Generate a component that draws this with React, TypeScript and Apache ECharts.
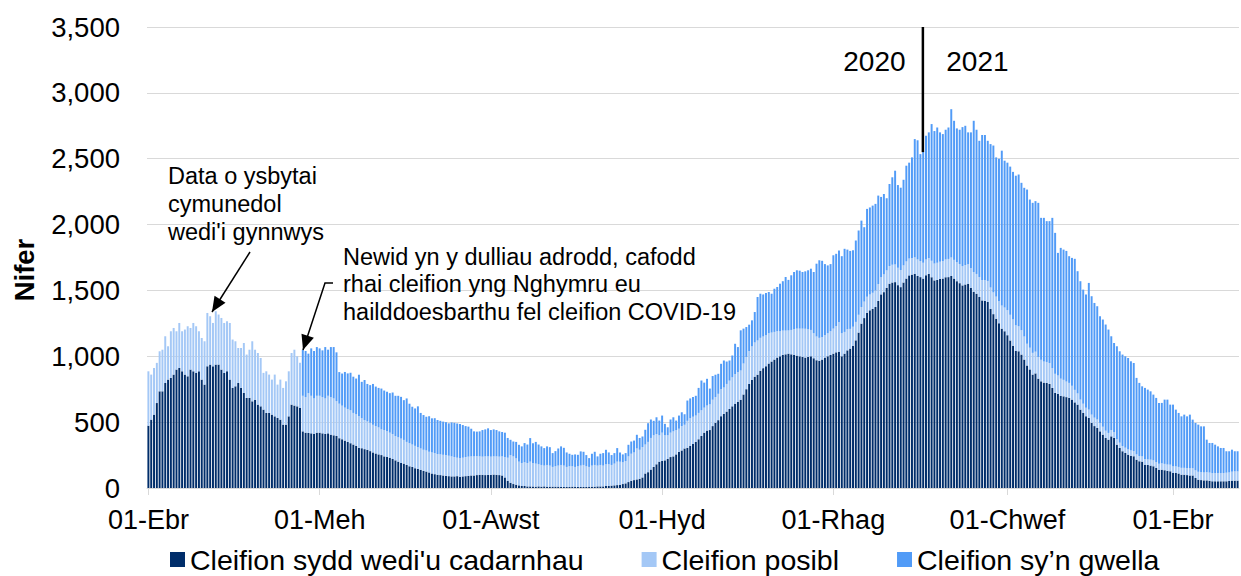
import React, { useEffect, useRef } from "react";
import * as echarts from "echarts";

// Daily data from 1 April 2020 (index 0)
const monthsCy = ["Ion", "Chwef", "Maw", "Ebr", "Mai", "Meh", "Gorff", "Awst", "Medi", "Hyd", "Tach", "Rhag"];
const tickLabels = ["01-Ebr", "01-Meh", "01-Awst", "01-Hyd", "01-Rhag", "01-Chwef"];
const yearLabel = "01-Ion";
const seriesNames = ["Cleifion sydd wedi'u cadarnhau", "Cleifion posibl", "Cleifion sy\u2019n gwella"];

const confirmed = [
  473,519,557,645,734,734,797,823,836,861,899,911,886,861,848,899,886,873,886,823,785,924,937,924,937,937,899,873,886,823,760,772,797,760,722,684,684,658,670,633,620,595,570,570,557,544,532,519,481,481,544,633,626,620,608,
  430,420,418,415,410,420,
  420,415,410,415,405,400,395,
  378,370,360,350,340,330,320,305,302,295,
  290,280,270,262,255,250,240,235,230,220,
  210,200,190,185,175,165,160,150,145,138,
  130,125,118,110,105,100,98,95,92,90,
  88,88,90,85,88,90,92,95,95,98,
  100,100,98,100,100,102,100,98,95,80,55,
  40,30,25,20,15,15,12,12,12,10,
  12,10,12,10,10,10,10,10,8,8,
  8,8,10,10,8,8,8,8,10,10,
  10,12,12,12,15,15,18,20,22,25,
  30,35,45,55,60,65,70,80,110,120,
  140,160,180,200,205,210,220,235,240,255,
  275,285,300,305,
  320,335,350,370,395,420,436,440,470,495,
  515,545,563,580,600,620,640,655,670,710,
  750,790,820,845,860,890,910,925,945,960,
  975,990,1000,1010,1015,1020,1015,1010,1005,1000,
  995,990,995,1000,985,970,965,975,990,1000,
  1010,1020,1030,1035,
  1000,1020,1045,1058,1080,1121,1180,1248,1290,1330,
  1349,1360,1374,1420,1470,1487,1520,1551,1560,1563,
  1540,1525,1560,1590,1614,1620,1626,1610,1601,1590,
  1615,1626,1600,1576,1580,1588,1590,1600,1601,1610,
  1590,1570,1555,1538,1545,1551,1520,1490,1475,1450,
  1424,1420,1412,1360,1320,1285,1250,1210,1190,1160,
  1120,1080,1040,1038,1013,975,930,
  900,861,870,830,810,800,797,790,760,722,
  715,700,696,690,684,671,650,633,595,570,
  544,532,494,470,456,430,405,380,367,392,
  380,329,304,279,266,253,245,241,215,203,
  200,177,175,170,165,152,139,139,135,130,
  127,114,114,110,101,101,98,95,95,76,
  63,60,58,58,55,51,51,51,51,51,
  51,53,56,56,56
];

const suspected = [
  413,342,354,305,304,316,355,253,354,354,291,342,304,342,380,316,367,355,304,316,329,405,367,329,405,380,392,380,380,430,367,342,266,303,379,329,366,456,380,392,367,279,316,291,266,317,253,304,279,329,342,392,424,380,342,
  270,270,302,285,270,280,
  280,275,270,285,285,280,265,
  262,255,250,250,250,240,240,240,228,220,
  215,215,210,208,205,195,200,195,190,190,
  185,185,185,180,175,175,170,170,165,162,
  160,160,157,160,160,158,157,157,158,155,
  152,147,140,143,142,145,146,145,145,144,
  140,138,142,140,138,138,140,140,145,155,175,
  210,210,200,180,175,180,178,188,178,175,
  168,165,158,165,160,150,155,160,167,162,
  152,157,155,150,157,162,167,157,150,160,
  165,158,163,158,165,165,157,165,178,175,
  165,170,195,205,210,235,220,230,220,230,
  240,240,230,200,215,190,180,185,190,185,
  175,185,180,205,
  210,205,200,200,195,190,190,195,200,195,
  200,205,200,210,215,220,225,225,222,235,
  245,250,255,260,260,250,240,235,230,220,
  210,200,190,185,180,176,185,195,205,210,
  215,219,210,200,190,180,175,171,170,175,
  180,190,200,225,
  175,165,160,150,145,140,135,126,125,122,
  120,122,125,128,130,135,132,134,135,134,
  132,130,130,130,128,126,125,125,122,120,
  120,120,125,128,130,130,132,135,138,140,
  142,144,145,146,148,148,150,150,150,152,
  155,158,160,162,165,168,170,175,180,190,
  195,200,195,190,185,175,165,
  165,165,165,165,163,160,160,159,150,145,
  139,130,125,118,114,105,95,85,76,70,
  65,63,63,64,64,64,60,55,51,48,
  45,42,40,40,40,40,40,40,40,40,
  40,42,42,45,45,45,45,48,48,48,
  50,50,50,50,52,52,52,55,55,58,
  60,60,60,62,62,62,63,63,63,63,
  65,65,68,70,70
];

const recovering = [
  0,0,0,0,0,0,0,0,0,0,0,0,0,0,0,0,0,0,0,0,0,0,0,0,0,0,0,0,0,0,0,0,0,0,0,0,0,0,0,0,0,0,0,0,0,0,0,0,0,0,0,0,0,0,0,
  350,350,300,360,360,370,
  360,355,390,350,380,390,370,
  240,244,271,270,285,275,271,315,276,305,
  285,286,310,300,300,310,300,300,300,315,
  305,315,317,302,330,300,287,284,310,270,
  264,256,270,259,265,258,255,252,250,246,
  258,260,260,257,248,235,228,210,190,186,
  190,202,205,213,202,205,200,192,185,185,150,
  116,113,125,128,126,146,140,179,150,165,
  150,141,133,141,140,105,115,130,141,135,
  110,95,87,95,87,108,100,85,67,90,
  100,70,85,95,110,90,75,80,103,70,
  60,60,88,93,90,104,90,81,112,142,
  140,110,127,112,130,87,61,100,107,72,
  100,105,80,154,
  150,150,150,190,226,190,203,120,180,170,
  152,193,205,170,153,166,230,190,305,265,
  227,200,198,231,330,335,320,320,313,295,
  328,336,361,375,407,384,415,435,443,440,
  430,436,448,465,465,553,589,579,540,515,
  510,557,548,543,
  585,631,605,592,580,618,640,656,565,667,
  661,662,658,672,610,610,548,623,664,712,
  628,625,650,727,728,764,898,905,812,851,
  939,954,1038,1006,1027,982,965,985,998,1126,
  1056,1016,1020,1056,1057,1001,1030,1148,1095,1034,
  1101,1102,1064,1089,1115,1057,1080,1176,1115,1120,
  1125,1120,1136,1152,1119,1129,1171,
  1125,1139,1143,1170,1078,1091,1069,1077,1141,1070,
  931,993,989,992,962,971,995,928,899,866,
  860,962,899,871,860,810,814,806,785,712,
  676,705,694,694,694,694,677,668,581,555,
  532,541,530,519,499,487,462,459,488,493,
  456,469,431,410,391,404,394,407,369,360,
  358,348,350,247,225,229,215,202,190,190,
  163,161,167,153,153
];

const categories = confirmed.map((_, i) => {
  const d = new Date(Date.UTC(2020, 3, 1 + i));
  return String(d.getUTCDate()).padStart(2, "0") + "-" + monthsCy[d.getUTCMonth()];
});

const COLORS = ["#002D6A", "#A4C8F6", "#519BF7"];
const FONT = "'Liberation Sans', Arial, Helvetica, sans-serif";
const GRID = "#D9D9D9";

function arrowHead(from: number[], tip: number[], len: number, half: number) {
  const dx = tip[0] - from[0];
  const dy = tip[1] - from[1];
  const l = Math.sqrt(dx * dx + dy * dy);
  const ux = dx / l, uy = dy / l;
  const bx = tip[0] - ux * len, by = tip[1] - uy * len;
  const nx = -uy, ny = ux;
  return [tip, [bx + nx * half, by + ny * half], [bx - nx * half, by - ny * half]];
}

export default function App() {
  const ref = useRef<HTMLDivElement>(null);
  useEffect(() => {
    document.body.style.margin = "0";
    const chart = echarts.init(ref.current!, null, { renderer: "svg" });
    const showIdx = (i: number) => tickLabels.indexOf(categories[i]) >= 0;
    chart.setOption({
      animation: false,
      grid: { left: 147, right: 2, top: 27, bottom: 88, containLabel: false },
      legend: {
        left: 165,
        top: 540,
        itemWidth: 15,
        itemHeight: 15,
        itemGap: 58,
        icon: "rect",
        selectedMode: false,
        textStyle: { fontSize: 28.5, color: "#000", fontFamily: FONT },
        data: seriesNames,
      },
      xAxis: {
        type: "category",
        data: categories,
        boundaryGap: true,
        axisLine: { lineStyle: { color: GRID, width: 1 } },
        axisTick: { show: true, interval: (i: number) => showIdx(i), alignWithLabel: true, length: 7, lineStyle: { color: GRID } },
        axisLabel: { interval: (i: number) => showIdx(i), fontSize: 27, color: "#000", fontFamily: FONT, margin: 18 },
        splitLine: { show: false },
      },
      yAxis: {
        type: "value",
        min: 0,
        max: 3500,
        interval: 500,
        axisLine: { show: false },
        axisTick: { show: false },
        splitLine: { lineStyle: { color: GRID, width: 1 } },
        axisLabel: {
          formatter: (v: number) => v.toLocaleString("en-US"),
          fontSize: 27.5,
          color: "#000",
          fontFamily: FONT,
          margin: 27,
        },
      },
      series: [
        { name: seriesNames[0], type: "bar", stack: "t", data: confirmed, itemStyle: { color: COLORS[0] }, barCategoryGap: "30%" },
        { name: seriesNames[1], type: "bar", stack: "t", data: suspected, itemStyle: { color: COLORS[1] }, barCategoryGap: "30%" },
        { name: seriesNames[2], type: "bar", stack: "t", data: recovering, itemStyle: { color: COLORS[2] }, barCategoryGap: "30%" },
      ],
    });

    const yi = categories.indexOf(yearLabel);
    const pTop = chart.convertToPixel({ gridIndex: 0 }, [yi, 3500]) as number[];
    const pBot = chart.convertToPixel({ gridIndex: 0 }, [yi, 2550]) as number[];
    const lx = pTop[0] + 2.5;

    const a1From = [250, 252], a1Tip = [212, 312];
    const a2Pts = [[333, 283], [325, 283], [303, 350]];

    chart.setOption({
      graphic: [
        { type: "line", shape: { x1: lx, y1: pTop[1], x2: lx, y2: pBot[1] }, style: { stroke: "#000", lineWidth: 2.5 }, z: 100 },
        { type: "text", x: lx - 48.5, y: 61, style: { text: "2020", fontSize: 28, fontFamily: FONT, fill: "#000", align: "center", verticalAlign: "middle" }, z: 100 },
        { type: "text", x: lx + 54.5, y: 61, style: { text: "2021", fontSize: 28, fontFamily: FONT, fill: "#000", align: "center", verticalAlign: "middle" }, z: 100 },
        { type: "text", x: 24, y: 270, rotation: Math.PI / 2, style: { text: "Nifer", fontSize: 27.5, fontWeight: "bold", fontFamily: FONT, fill: "#000", align: "center", verticalAlign: "middle" } },
        { type: "text", x: 168, y: 204, style: { text: "Data o ysbytai\ncymunedol\nwedi'i gynnwys", fontSize: 23.5, lineHeight: 28, fontFamily: FONT, fill: "#000", align: "left", verticalAlign: "middle" }, z: 100 },
        { type: "text", x: 343, y: 284, style: { text: "Newid yn y dulliau adrodd, cafodd\nrhai cleifion yng Nghymru eu\nhailddoesbarthu fel cleifion COVID-19", fontSize: 23.5, lineHeight: 27.5, fontFamily: FONT, fill: "#000", align: "left", verticalAlign: "middle" }, z: 100 },
        { type: "polyline", shape: { points: [a1From, a1Tip] }, style: { stroke: "#000", lineWidth: 1.5, fill: null }, z: 100 },
        { type: "polygon", shape: { points: arrowHead(a1From, a1Tip, 15, 6.5) }, style: { fill: "#000" }, z: 100 },
        { type: "polyline", shape: { points: a2Pts }, style: { stroke: "#000", lineWidth: 1.5, fill: null }, z: 100 },
        { type: "polygon", shape: { points: arrowHead(a2Pts[1], a2Pts[2], 15, 6.5) }, style: { fill: "#000" }, z: 100 },
      ],
    });

    return () => chart.dispose();
  }, []);
  return <div ref={ref} style={{ width: 1241, height: 576 }} />;
}
